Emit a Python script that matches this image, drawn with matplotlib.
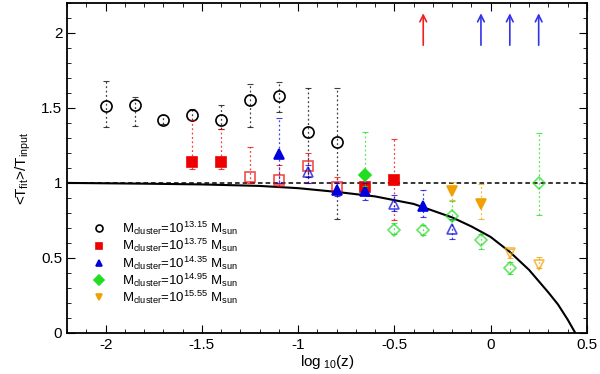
import matplotlib
matplotlib.use('Agg')
from matplotlib import pyplot
from matplotlib.lines import Line2D
from matplotlib.ticker import MultipleLocator, FuncFormatter

pyplot.rcParams['font.family'] = ['Liberation Sans', 'DejaVu Sans']
pyplot.rcParams['mathtext.fontset'] = 'custom'
pyplot.rcParams['mathtext.rm'] = 'Liberation Sans'
pyplot.rcParams['mathtext.it'] = 'Liberation Sans:italic'
pyplot.rcParams['axes.unicode_minus'] = False

# model curve
curve_x = [-2.2, -1.8, -1.5, -1.2, -1.0, -0.8, -0.6, -0.4, -0.2, -0.1, 0.0, 0.1, 0.2, 0.3, 0.35, 0.4, 0.44]
curve_y = [1.0, 0.995, 0.99, 0.98, 0.965, 0.94, 0.91, 0.86, 0.77, 0.71, 0.64, 0.54, 0.42, 0.27, 0.19, 0.09, 0.0]

# M = 10^13.15
x13 = [-2.0, -1.85, -1.7, -1.55, -1.4, -1.25, -1.1, -0.95, -0.8]
y13 = [1.51, 1.52, 1.42, 1.45, 1.42, 1.55, 1.58, 1.34, 1.27]
lo13 = [1.37, 1.38, 1.39, 1.42, 1.36, 1.37, 1.47, 1.04, 0.76]
hi13 = [1.68, 1.57, 1.45, 1.49, 1.52, 1.66, 1.67, 1.63, 1.63]
f13 = [False] * 9

# M = 10^13.75
x1375 = [-1.55, -1.4, -1.25, -1.1, -0.95, -0.8, -0.65, -0.5]
y1375 = [1.14, 1.14, 1.04, 1.02, 1.11, 0.97, 0.97, 1.02]
lo1375 = [1.09, 1.09, 1.00, 0.98, 1.00, 0.93, 0.93, 0.75]
hi1375 = [1.42, 1.36, 1.24, 1.12, 1.20, 1.04, 1.00, 1.29]
f1375 = [True, True, False, False, False, False, True, True]

# M = 10^14.35
x1435 = [-1.1, -0.95, -0.8, -0.65, -0.5, -0.35, -0.2]
y1435 = [1.19, 1.07, 0.955, 0.948, 0.862, 0.844, 0.693]
lo1435 = [1.00, 1.00, 0.91, 0.888, 0.81, 0.773, 0.623]
hi1435 = [1.43, 1.12, 1.00, 1.00, 0.92, 0.955, 0.76]
f1435 = [True, False, True, True, False, True, False]

# M = 10^14.95
x1495 = [-0.65, -0.5, -0.35, -0.2, -0.05, 0.1, 0.25]
y1495 = [1.056, 0.689, 0.684, 0.782, 0.618, 0.43, 0.999]
lo1495 = [0.98, 0.66, 0.65, 0.75, 0.56, 0.39, 0.786]
hi1495 = [1.34, 0.73, 0.72, 0.88, 0.66, 0.47, 1.331]
f1495 = [True, False, False, False, False, False, False]

# M = 10^15.55
x1555 = [-0.2, -0.05, 0.1, 0.25]
y1555 = [0.946, 0.862, 0.53, 0.452]
lo1555 = [0.884, 0.762, 0.50, 0.43]
hi1555 = [1.006, 0.99, 0.556, 0.507]
f1555 = [True, True, False, False]

# upper limits shown as arrows
arrow_x = [-0.35, -0.05, 0.1, 0.25]
arrow_c = ['#ee2222', '#3333ee', '#3333ee', '#3333ee']

series = [
    (x13, y13, lo13, hi13, f13, 'o', '#000000', 8, '13.15'),
    (x1375, y1375, lo1375, hi1375, f1375, 's', '#ee0000', 7, '13.75'),
    (x1435, y1435, lo1435, hi1435, f1435, '^', '#0000dd', 7, '14.35'),
    (x1495, y1495, lo1495, hi1495, f1495, 'D', '#22dd22', 6, '14.95'),
    (x1555, y1555, lo1555, hi1555, f1555, 'v', '#f0a000', 7, '15.55'),
]

fig = pyplot.figure(figsize=(6, 3.74), dpi=100)
ax = fig.add_axes([0.112, 0.11, 0.866, 0.882])

ax.axhline(1.0, color='black', linewidth=1.1, dashes=(3, 2))
ax.plot(curve_x, curve_y, color='black', linewidth=1.5)

handles = []
for xs, ys, lo, hi, filled, mk, col, ms, lab in series:
    for x, y, l, h, f in zip(xs, ys, lo, hi, filled):
        alpha = 1.0 if (f or col == '#000000') else 0.7
        eb = ax.errorbar([x], [y], yerr=[[y - l], [h - y]], fmt='none',
                         ecolor=col, elinewidth=0.9, capsize=2.5, capthick=0.8,
                         alpha=0.75)
        eb[2][0].set_linestyle((0, (1.5, 2)))
        ax.plot([x], [y], marker=mk, markersize=ms, linestyle='none',
                markerfacecolor=col if f else 'none', markeredgecolor=col,
                markeredgewidth=1.2, alpha=alpha)
    handles.append(Line2D([], [], marker=mk, linestyle='none', markersize=5,
                          markerfacecolor='none' if col == '#000000' else col,
                          markeredgecolor=col, markeredgewidth=1.2,
                          label=r'M$_{\rm cluster}$=10$^{%s}$ M$_{\rm sun}$' % lab))

for x, c in zip(arrow_x, arrow_c):
    ax.annotate('', xy=(x, 2.15), xytext=(x, 1.9),
                arrowprops=dict(arrowstyle='->', color=c, lw=1.2, mutation_scale=12))

ax.legend(handles=handles, loc='lower left', bbox_to_anchor=(0.025, 0.045),
          frameon=False, fontsize=9.5, handletextpad=1.3, labelspacing=0.0,
          handlelength=1.0, borderpad=0.4)

ax.set_xlim(-2.2, 0.5)
ax.set_ylim(0, 2.2)
ax.xaxis.set_major_locator(MultipleLocator(0.5))
ax.xaxis.set_minor_locator(MultipleLocator(0.1))
ax.yaxis.set_major_locator(MultipleLocator(0.5))
ax.yaxis.set_minor_locator(MultipleLocator(0.1))
fmt = FuncFormatter(lambda v, p: '%g' % round(v, 2))
ax.xaxis.set_major_formatter(fmt)
ax.yaxis.set_major_formatter(fmt)
ax.tick_params(which='both', direction='in', top=True, right=True, labelsize=11)
ax.tick_params(which='major', length=6)
ax.tick_params(which='minor', length=3)
for s in ax.spines.values():
    s.set_linewidth(1.3)

ax.set_xlabel(r'log$_{\ 10}$(z)', fontsize=11, labelpad=1)
ax.set_ylabel(r'<T$_{\rm fit}$>/T$_{\rm input}$', fontsize=11, labelpad=6)

fig.savefig('out.png')
